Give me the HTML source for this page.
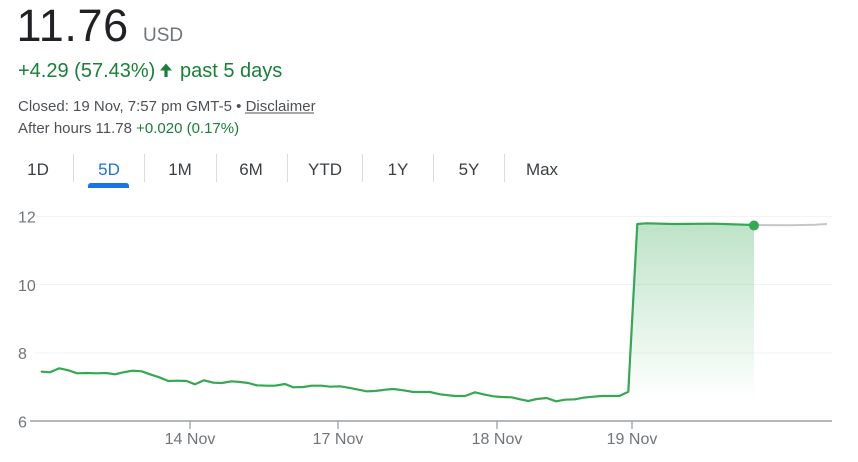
<!DOCTYPE html>
<html><head><meta charset="utf-8"><style>
html,body{margin:0;padding:0;background:#fff;}
svg{display:block;font-family:"Liberation Sans",Arial,sans-serif;}
</style></head><body>
<svg width="858" height="462" viewBox="0 0 858 462" xmlns="http://www.w3.org/2000/svg">
<defs>
<linearGradient id="g" gradientUnits="userSpaceOnUse" x1="0" y1="224" x2="0" y2="400">
<stop offset="0" stop-color="#34a853" stop-opacity="0.32"/>
<stop offset="1" stop-color="#34a853" stop-opacity="0"/>
</linearGradient>
</defs>
<!-- header -->
<text x="16.5" y="41" font-size="45" fill="#202124" letter-spacing="0.6">11.76</text>
<text x="143" y="41" font-size="19" fill="#70757a">USD</text>
<text x="18" y="77" font-size="20" fill="#188038">+4.29 (57.43%)</text>
<path d="M160 70.5 L166 63.5 L172 70.5 L167.6 70.5 L167.6 77 L164.4 77 L164.4 70.5 Z" fill="#188038"/>
<text x="180" y="77" font-size="20" fill="#188038">past 5 days</text>
<text x="18" y="111" font-size="15" fill="#4d5156">Closed: 19 Nov, 7:57 pm GMT-5 • Disclaimer</text>
<line x1="245" y1="113" x2="314" y2="113" stroke="#4d5156" stroke-width="1"/>
<text x="18" y="133" font-size="15" fill="#4d5156">After hours 11.78 <tspan fill="#188038">+0.020 (0.17%)</tspan></text>
<!-- tabs -->
<g font-size="17" fill="#3c4043" text-anchor="middle">
<text x="38" y="175">1D</text>
<text x="109" y="175" fill="#1a73e8">5D</text>
<text x="180" y="175">1M</text>
<text x="251" y="175">6M</text>
<text x="325" y="175">YTD</text>
<text x="398" y="175">1Y</text>
<text x="469" y="175">5Y</text>
<text x="542" y="175">Max</text>
</g>
<g stroke="#dadce0" stroke-width="1">
<line x1="73.5" y1="154" x2="73.5" y2="182"/>
<line x1="144.5" y1="154" x2="144.5" y2="182"/>
<line x1="216.5" y1="154" x2="216.5" y2="182"/>
<line x1="287.5" y1="154" x2="287.5" y2="182"/>
<line x1="362.5" y1="154" x2="362.5" y2="182"/>
<line x1="433.5" y1="154" x2="433.5" y2="182"/>
<line x1="504.5" y1="154" x2="504.5" y2="182"/>
</g>
<path d="M88 188 L88 186 Q88 183 91 183 L126 183 Q129 183 129 186 L129 188 Z" fill="#1a73e8"/>
<!-- grid -->
<g stroke="#f1f3f4" stroke-width="1">
<line x1="35" y1="216.5" x2="832" y2="216.5"/>
<line x1="35" y1="284.5" x2="832" y2="284.5"/>
<line x1="35" y1="353" x2="832" y2="353"/>
</g>
<g font-size="16" fill="#70757a">
<text x="18" y="222.5">12</text>
<text x="18" y="291">10</text>
<text x="18" y="359">8</text>
<text x="18" y="427.5">6</text>
</g>
<line x1="30" y1="421" x2="832" y2="421" stroke="#9aa0a6" stroke-width="1.5"/>
<g stroke="#9aa0a6" stroke-width="1.3">
<line x1="190" y1="421" x2="190" y2="429"/>
<line x1="338" y1="421" x2="338" y2="429"/>
<line x1="497" y1="421" x2="497" y2="429"/>
<line x1="632" y1="421" x2="632" y2="429"/>
</g>
<g font-size="16" fill="#70757a" text-anchor="middle">
<text x="190" y="444">14 Nov</text>
<text x="338" y="444">17 Nov</text>
<text x="497" y="444">18 Nov</text>
<text x="632" y="444">19 Nov</text>
</g>
<!-- fill -->
<path d="M632 300 L637.3 224 L646.7 223.3 L673.3 224 L713.3 223.7 L754 225 L754 421 L632 421 Z" fill="url(#g)"/>
<!-- grey after hours -->
<polyline points="754,225 790,225.3 815,224.7 827,224" fill="none" stroke="#c4c7c9" stroke-width="2"/>
<!-- line -->
<polyline fill="none" stroke="#34a853" stroke-width="2.2" stroke-linejoin="round" stroke-linecap="round" points="41.7,371.7 50,372.3 59.3,368.3 68.3,370.3 77.3,373.3 86.7,373 96.7,373.3 106,373 115,374.3 123.3,372.3 132.7,370.7 141.7,371.3 150,374.3 159.3,377.3 168.3,381 176.7,380.7 186.7,381 195,384.3 204,380.3 213.3,382.7 221.7,383 231.7,381.3 240,382 248.3,383 256.7,385.3 266.7,385.7 275,385.7 285,384 293.3,387.3 303.3,387 311.7,385.7 321.7,385.7 330,386.7 340,386.3 348.3,387.7 356.7,389.3 366.7,391.3 375,391 385,389.7 393.3,389 403.3,390.3 413.3,392 421.7,392 430,392 440,394.3 455,396 465,396 475,392.3 483.3,394.3 493.3,396.3 501.7,397 511.7,397.3 520,399.3 528.3,401 536.7,399 546.7,398 556,401.3 565,399.7 575,399.3 583.3,397.7 593.3,396.7 601.7,396 610,396 619.3,396 628.3,391.7 637.3,224 646.7,223.3 673.3,224 713.3,223.7 754,225"/>
<circle cx="754" cy="225.5" r="5" fill="#34a853"/>
</svg>
</body></html>
